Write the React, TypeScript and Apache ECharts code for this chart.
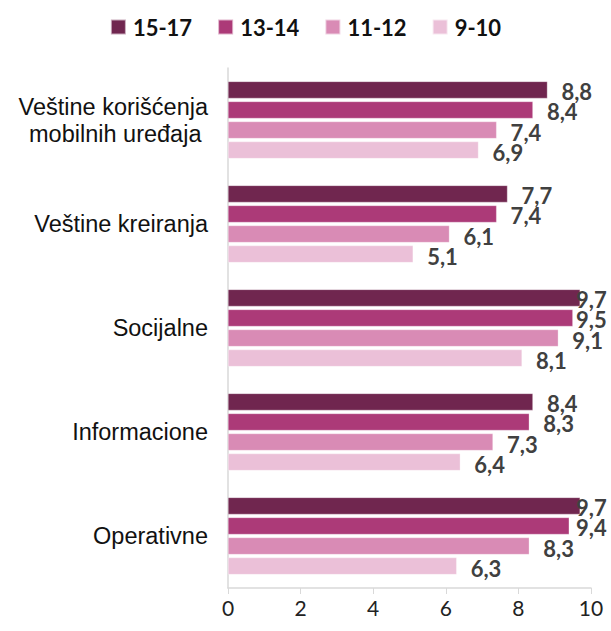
import React, { useEffect, useRef } from "react";
import * as echarts from "echarts";

const categories = [
  "Veštine korišćenja\nmobilnih uređaja ",
  "Veštine kreiranja",
  "Socijalne",
  "Informacione",
  "Operativne",
];
const seriesNames = ["15-17", "13-14", "11-12", "9-10"];
const values15_17 = [8.8, 7.7, 9.7, 8.4, 9.7];
const values13_14 = [8.4, 7.4, 9.5, 8.3, 9.4];
const values11_12 = [7.4, 6.1, 9.1, 7.3, 8.3];
const values9_10 = [6.9, 5.1, 8.1, 6.4, 6.3];
const colors = ["#70264F", "#AC3A78", "#D98BB5", "#EBC0D8"];
const xTicks = [0, 2, 4, 6, 8, 10];

const W = 611;
const H = 631;
const GRID_LEFT = 228;
const GRID_RIGHT = 20;
const X_MAX = 10;
const LABEL_DIST = 14;
const LABEL_W = 33;
const LABEL_LIMIT = 609;

export default function App() {
  const ref = useRef<HTMLDivElement>(null);
  useEffect(() => {
    if (!ref.current) return;
    const chart = echarts.init(ref.current, null, { renderer: "svg" });
    const all = [values15_17, values13_14, values11_12, values9_10];
    const plotW = W - GRID_LEFT - GRID_RIGHT;
    const toData = (arr: number[]) =>
      arr.map((v) => {
        const start = GRID_LEFT + (v / X_MAX) * plotW + LABEL_DIST;
        const dx = Math.min(0, LABEL_LIMIT - LABEL_W - start);
        return { value: v, label: { offset: [dx, 2] } };
      });
    chart.setOption({
      animation: false,
      backgroundColor: "#ffffff",
      legend: {
        top: 11,
        left: "center",
        itemWidth: 15,
        itemHeight: 15,
        itemGap: 25,
        icon: "rect",
        textStyle: {
          fontFamily: "Lato",
          fontWeight: "bold",
          fontSize: 22,
          color: "#111",
          padding: [0, 0, 0, 2],
        },
        data: seriesNames,
      },
      grid: { left: GRID_LEFT, right: GRID_RIGHT, top: 68, bottom: 43 },
      xAxis: {
        type: "value",
        min: 0,
        max: X_MAX,
        interval: 2,
        axisLine: { show: true, lineStyle: { color: "#d9d9d9", width: 1.5 } },
        axisTick: { show: true, length: 6, lineStyle: { color: "#d9d9d9" } },
        splitLine: { show: false },
        axisLabel: {
          fontFamily: "Lato",
          fontSize: 21,
          color: "#222",
          margin: 9,
          formatter: (v: number) => (xTicks.includes(v) ? String(v) : ""),
        },
      },
      yAxis: {
        type: "category",
        inverse: true,
        data: categories,
        axisLine: { show: true, lineStyle: { color: "#d9d9d9", width: 1.5 } },
        axisTick: { show: false },
        axisLabel: {
          fontFamily: "Liberation Sans",
          fontSize: 23.5,
          color: "#111",
          margin: 20,
          lineHeight: 27,
        },
      },
      series: seriesNames.map((name, i) => ({
        name,
        type: "bar",
        data: toData(all[i]),
        barWidth: 17,
        barGap: "18%",
        itemStyle: { color: colors[i], borderColor: "rgba(255,255,255,0.6)", borderWidth: 0.5 },
        label: {
          show: true,
          position: "right",
          distance: LABEL_DIST,
          fontFamily: "Lato",
          fontWeight: "bold",
          fontSize: 22,
          color: "#404040",
          formatter: (p: any) => String(p.value).replace(".", ","),
        },
      })),
    });
    return () => chart.dispose();
  }, []);
  return (
    <div
      ref={ref}
      style={{ position: "fixed", left: 0, top: 0, width: W, height: H }}
    />
  );
}
